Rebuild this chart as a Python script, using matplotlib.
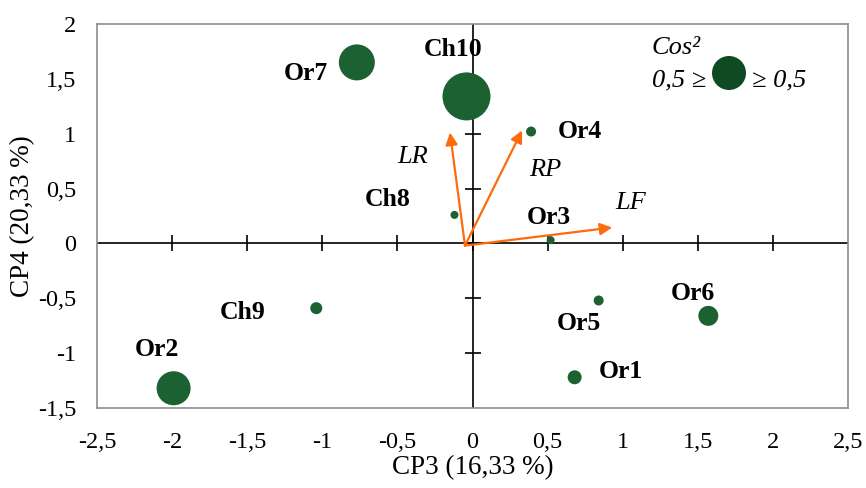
import matplotlib.pyplot as plt

plt.rcParams['font.family'] = ['Liberation Serif', 'DejaVu Serif']

# individuals on CP3 / CP4
names = ['Or7', 'Ch10', 'Or4', 'Ch8', 'Or3', 'Ch9', 'Or2', 'Or5', 'Or6', 'Or1']
cp3 = [-0.77, -0.04, 0.39, -0.12, 0.52, -1.04, -1.99, 0.84, 1.57, 0.68]
cp4 = [1.65, 1.34, 1.02, 0.26, 0.03, -0.59, -1.32, -0.52, -0.66, -1.22]
cos2 = [0.324, 0.576, 0.025, 0.016, 0.016, 0.036, 0.289, 0.025, 0.100, 0.049]
label_pos = [(306, 73), (453, 49), (580, 131), (388, 199), (549, 217),
             (243, 312), (157, 349), (579, 323), (693, 294), (621, 371)]

# variables (arrows)
var_names = ['LR', 'RP', 'LF']
var_x = [-0.15, 0.33, 0.93]
var_y = [1.01, 1.03, 0.145]
var_label_pos = [(413, 157), (545, 170), (631, 203)]
origin = (-0.05, -0.02)

W, H = 866, 488
fig = plt.figure(figsize=(W / 100, H / 100), dpi=100)
ax = fig.add_axes([97 / W, 1 - 408 / H, (848 - 97) / W, (408 - 24) / H])
ax.set_xlim(-2.5, 2.5)
ax.set_ylim(-1.5, 2)

for s in ax.spines.values():
    s.set_color('#8c8c8c')
    s.set_linewidth(1.2)

xt = [-2.5, -2, -1.5, -1, -0.5, 0, 0.5, 1, 1.5, 2, 2.5]
yt = [-1.5, -1, -0.5, 0, 0.5, 1, 1.5, 2]
fmt = lambda v: ('%g' % v).replace('.', ',')
ax.set_xticks(xt)
ax.set_xticklabels([fmt(v) for v in xt])
ax.set_yticks(yt)
ax.set_yticklabels([fmt(v) for v in yt])
ax.tick_params(length=0, labelsize=17.5)
ax.tick_params(axis='x', pad=17)
ax.tick_params(axis='y', pad=15)

# axes through origin with crossing ticks
ax.axhline(0, color='black', lw=1.2, zorder=1)
ax.axvline(0, color='black', lw=1.2, zorder=1)
ax.plot(xt[1:-1], [0] * (len(xt) - 2), ls='none', marker='|', ms=11, mew=1.2, color='black', zorder=1)
ax.plot([0] * (len(yt) - 2), yt[1:-1], ls='none', marker='_', ms=11, mew=1.2, color='black', zorder=1)

ax.scatter(cp3, cp4, s=[c * 2074 for c in cos2], color='#1b6132', edgecolors='none', zorder=3)

def to_data(px, py):
    return ax.transData.inverted().transform(fig.transFigure.transform((px / W, 1 - py / H)))

for n, (px, py) in zip(names, label_pos):
    x, y = to_data(px, py)
    ax.text(x, y, n, fontsize=18.5, fontweight='bold', ha='center', va='center', zorder=4)

for n, vx, vy, (px, py) in zip(var_names, var_x, var_y, var_label_pos):
    ax.annotate('', xy=(vx, vy), xytext=origin,
                arrowprops=dict(arrowstyle='-|>', color='#ff6a0a', lw=1.6, mutation_scale=18,
                                shrinkA=0, shrinkB=0), zorder=2)
    x, y = to_data(px, py)
    ax.text(x, y, n, fontsize=19, style='italic', ha='center', va='center', zorder=4)

# legend for bubble size
x, y = to_data(729, 73)
ax.scatter([x], [y], s=600, color='#0f4a22', edgecolors='none', zorder=3)
x, y = to_data(676, 48)
ax.text(x, y, 'Cos\u00b2', fontsize=19, style='italic', ha='center', va='center')
x, y = to_data(679, 80)
ax.text(x, y, '0,5 \u2265', fontsize=19, style='italic', ha='center', va='center')
x, y = to_data(779, 80)
ax.text(x, y, '\u2265 0,5', fontsize=19, style='italic', ha='center', va='center')

ax.set_xlabel('CP3 (16,33 %)', fontsize=19.5, labelpad=2)
ax.set_ylabel('CP4 (20,33 %)', fontsize=19.5, labelpad=2)

fig.savefig('out.png', dpi=100)
